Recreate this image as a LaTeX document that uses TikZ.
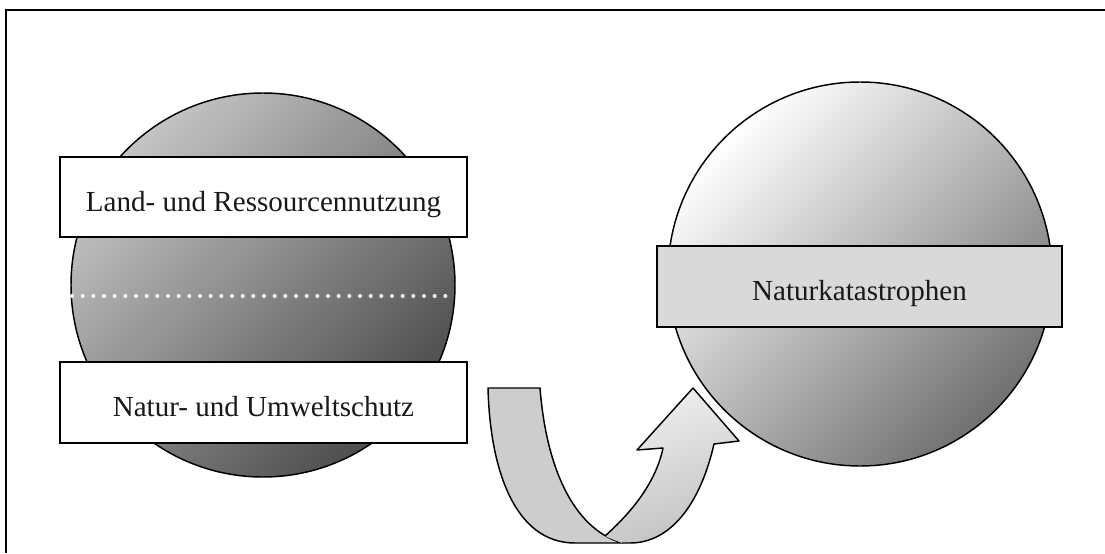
\documentclass[tikz,border=0pt]{standalone}
\usepackage{fontspec}
\setmainfont{Liberation Serif}
\definecolor{lcA}{HTML}{C4C4C4}
\definecolor{lcB}{HTML}{4C4C4C}
\definecolor{rcA}{HTML}{FFFFFF}
\definecolor{rcB}{HTML}{707070}
\definecolor{frA}{HTML}{EFEFEF}
\definecolor{frB}{HTML}{C2C2C2}
\definecolor{backstrip}{HTML}{CDCDCD}
\definecolor{boxgray}{HTML}{D9D9D9}
\begin{document}
\begin{tikzpicture}[x=0.75pt,y=-0.75pt,
  outl/.style={draw=black,line width=1.1pt},
  ball/.style={circle,outl,inner sep=0pt,minimum size=288pt},
  box/.style={rectangle,outl,inner sep=0pt},
  lbl/.style={anchor=base,inner sep=0pt,font=\fontsize{21.8}{26}\selectfont,text=black!90}]
\useasboundingbox (0,0) rectangle (1105,553);
% frame
\draw[line width=1.6pt] (6,553) -- (6,10) -- (1105,10);
% left ball
\node[ball,top color=lcA,bottom color=lcB,shading angle=45] (lball) at (263,285) {};
\coordinate (dotL) at (72,296);
\coordinate (dotR) at (452,296);
\draw[white,line width=3pt,line cap=round,dash pattern=on 0pt off 8pt] (dotL) -- (dotR);
\node[box,fill=white,minimum width=305.25pt,minimum height=60pt] (topbox) at (263.5,197) {};
\node[lbl] (toptext) at (263.5,211) {Land- und Ressourcennutzung};
\node[box,fill=white,minimum width=305.25pt,minimum height=60.75pt] (botbox) at (263.5,402.5) {};
\node[lbl] (bottext) at (263.5,416) {Natur- und Umweltschutz};
% right ball
\node[ball,top color=rcA,bottom color=rcB,shading angle=45] (rball) at (860,274) {};
\node[box,fill=boxgray,minimum width=303.75pt,minimum height=60.75pt] (rbox) at (859.5,286.5) {};
\node[lbl] (rtext) at (859.5,300) {Naturkatastrophen};
% U-turn arrow: back strip
\coordinate (bOutTop) at (488,388);
\coordinate (bInTop) at (540,388);
\coordinate (bBotL) at (575,543);
\coordinate (bBotR) at (622,543);
\coordinate (cross) at (605,536);
\filldraw[outl,fill=backstrip,line join=round]
  (bOutTop) -- (bInTop) .. controls (546,465) and (572,528) .. (bBotR)
  -- (bBotL) .. controls (515,543) and (490,470) .. (bOutTop) -- cycle;
% front strip with head
\coordinate (hL) at (637,450);
\coordinate (hLi) at (663,448);
\coordinate (tip) at (693,388);
\coordinate (hR) at (739,441);
\coordinate (hRi) at (714,444);
\coordinate (fBot) at (630,543);
\shade[top color=frA,bottom color=frB,shading angle=20]
  (cross) .. controls (632,512) and (656,482) .. (hLi) -- (hL) -- (tip) -- (hR) -- (hRi)
  .. controls (700,505) and (670,543) .. (fBot) -- (bBotR) .. controls (614,540) and (609,538) .. (cross) -- cycle;
\draw[outl,line join=round]
  (cross) .. controls (632,512) and (656,482) .. (hLi) -- (hL) -- (tip) -- (hR) -- (hRi)
  .. controls (700,505) and (670,543) .. (fBot) -- (bBotR);
\end{tikzpicture}
\end{document}
